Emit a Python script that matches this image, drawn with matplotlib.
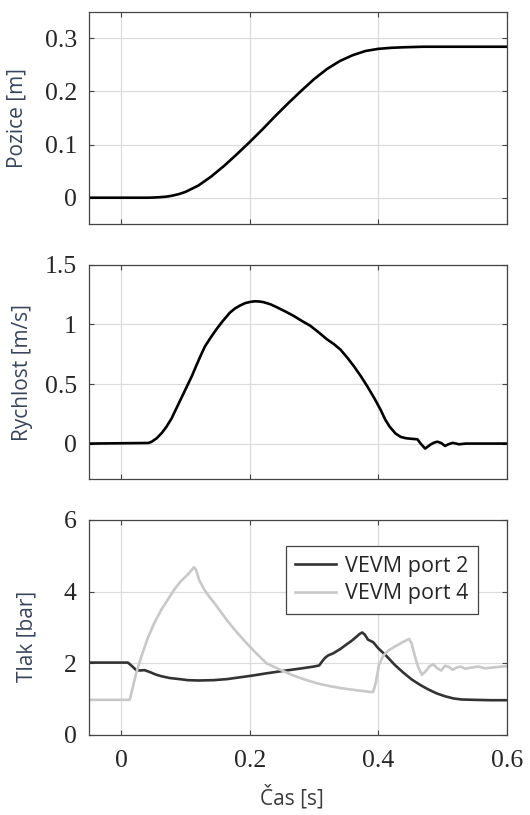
import matplotlib
matplotlib.use("Agg")
import matplotlib.pyplot as plt

# poloha
pos_t = [-0.05, 0.04, 0.05, 0.06, 0.07, 0.08, 0.09, 0.10, 0.12, 0.14, 0.16, 0.18, 0.20,
         0.22, 0.24, 0.26, 0.28, 0.30, 0.32, 0.34, 0.36, 0.37, 0.38, 0.39, 0.40, 0.41,
         0.42, 0.44, 0.47, 0.60]
pos = [0.0, 0.0, 0.0003, 0.001, 0.002, 0.004, 0.007, 0.011, 0.023, 0.040, 0.060, 0.082,
       0.105, 0.129, 0.154, 0.178, 0.201, 0.223, 0.242, 0.257, 0.268, 0.272, 0.276, 0.278,
       0.280, 0.281, 0.282, 0.283, 0.284, 0.284]

# rychlost
vel_t = [-0.05, 0.042, 0.047, 0.055, 0.063, 0.070, 0.078, 0.086, 0.094, 0.102, 0.110,
         0.117, 0.124, 0.130, 0.139, 0.148, 0.158, 0.169, 0.177, 0.185, 0.193, 0.201,
         0.208, 0.215, 0.221, 0.232, 0.242, 0.255, 0.268, 0.281, 0.294, 0.307, 0.320,
         0.331, 0.341, 0.352, 0.362, 0.373, 0.383, 0.394, 0.404, 0.411, 0.418, 0.427,
         0.435, 0.443, 0.452, 0.461, 0.466, 0.473, 0.482, 0.487, 0.492, 0.498, 0.504,
         0.510, 0.516, 0.521, 0.526, 0.536, 0.60]
vel = [0.0, 0.005, 0.015, 0.045, 0.09, 0.14, 0.21, 0.30, 0.39, 0.48, 0.57, 0.66, 0.745,
       0.815, 0.89, 0.96, 1.03, 1.10, 1.135, 1.16, 1.18, 1.19, 1.195, 1.193, 1.188, 1.17,
       1.145, 1.11, 1.073, 1.03, 0.99, 0.935, 0.876, 0.835, 0.79, 0.72, 0.65, 0.565,
       0.48, 0.38, 0.28, 0.20, 0.14, 0.084, 0.056, 0.045, 0.040, 0.036, 0.0, -0.042,
       -0.006, 0.008, 0.016, 0.005, -0.02, -0.004, 0.006, 0.0, -0.006, 0.0, 0.0]

# tlak - VEVM port 2
p2_t = [-0.05, 0.010, 0.016, 0.023, 0.030, 0.036, 0.045, 0.053, 0.062, 0.075, 0.090,
        0.103, 0.120, 0.144, 0.165, 0.185, 0.205, 0.226, 0.245, 0.265, 0.285, 0.300,
        0.308, 0.312, 0.317, 0.322, 0.330, 0.341, 0.350, 0.358, 0.366, 0.371, 0.375,
        0.379, 0.384, 0.392, 0.400, 0.413, 0.426, 0.439, 0.452, 0.465, 0.478, 0.491,
        0.504, 0.517, 0.530, 0.550, 0.575, 0.60]
p2 = [2.02, 2.02, 1.93, 1.81, 1.80, 1.81, 1.75, 1.69, 1.64, 1.59, 1.56, 1.53, 1.52,
      1.53, 1.56, 1.61, 1.66, 1.72, 1.77, 1.82, 1.87, 1.91, 1.94, 2.04, 2.15, 2.22,
      2.28, 2.40, 2.52, 2.62, 2.74, 2.82, 2.86, 2.80, 2.66, 2.59, 2.42, 2.20, 1.95,
      1.74, 1.55, 1.40, 1.27, 1.16, 1.08, 1.02, 0.99, 0.98, 0.97, 0.97]

# tlak - VEVM port 4
p4_t = [-0.05, 0.013, 0.018, 0.023, 0.031, 0.041, 0.051, 0.062, 0.072, 0.082, 0.092,
        0.103, 0.113, 0.116, 0.121, 0.128, 0.133, 0.149, 0.164, 0.179, 0.195, 0.210,
        0.226, 0.245, 0.265, 0.285, 0.305, 0.325, 0.345, 0.365, 0.388, 0.392, 0.396,
        0.401, 0.408, 0.416, 0.426, 0.437, 0.448, 0.452, 0.457, 0.462, 0.468, 0.474,
        0.480, 0.486, 0.492, 0.498, 0.504, 0.510, 0.516, 0.522, 0.528, 0.535, 0.545,
        0.556, 0.566, 0.577, 0.588, 0.60]
p4 = [0.98, 0.98, 1.35, 1.72, 2.19, 2.70, 3.12, 3.49, 3.77, 4.05, 4.28, 4.47, 4.68,
      4.62, 4.33, 4.09, 3.95, 3.58, 3.21, 2.88, 2.56, 2.28, 2.00, 1.84, 1.68, 1.55,
      1.44, 1.36, 1.30, 1.25, 1.20, 1.20, 1.45, 1.95, 2.22, 2.36, 2.47, 2.58, 2.68,
      2.55, 2.20, 1.90, 1.68, 1.78, 1.92, 1.97, 1.86, 1.80, 1.93, 1.90, 1.82, 1.88,
      1.91, 1.85, 1.88, 1.91, 1.86, 1.88, 1.90, 1.92]

xticks = [0, 0.2, 0.4, 0.6]
xticklabels = ["0", "0.2", "0.4", "0.6"]

label_font = "Open Sans"
tick_font = "Liberation Serif"
label_color = "#38445a"

fig = plt.figure(figsize=(5.3, 8.15), dpi=100)
ax1 = fig.add_axes([0.1685, 0.7248, 0.7875, 0.2609])
ax2 = fig.add_axes([0.1685, 0.4119, 0.7875, 0.2630])
ax3 = fig.add_axes([0.1685, 0.0982, 0.7875, 0.2638])

ax1.plot(pos_t, pos, color="black", lw=1.9)
ax2.plot(vel_t, vel, color="black", lw=1.9)
ax3.plot(p2_t, p2, color="#333333", lw=1.9, label="VEVM port 2")
ax3.plot(p4_t, p4, color="#c8c8c8", lw=1.9, label="VEVM port 4")

ax1.set_ylim(-0.05, 0.35)
ax1.set_yticks([0, 0.1, 0.2, 0.3])
ax1.set_yticklabels(["0", "0.1", "0.2", "0.3"])
ax2.set_ylim(-0.3, 1.5)
ax2.set_yticks([0, 0.5, 1, 1.5])
ax2.set_yticklabels(["0", "0.5", "1", "1.5"])
ax3.set_ylim(0, 6)
ax3.set_yticks([0, 2, 4, 6])
ax3.set_yticklabels(["0", "2", "4", "6"])

for ax in (ax1, ax2, ax3):
    ax.set_xlim(-0.05, 0.6)
    ax.set_xticks(xticks)
    ax.grid(True, color="#dcdcdc", lw=0.9)
    ax.set_axisbelow(True)
    ax.tick_params(direction="in", top=True, right=True, length=3.5, width=0.8,
                   color="#444444", labelsize=18.5, labelcolor="#262626", pad=9)
    ax.tick_params(axis="x", pad=11)
    for s in ax.spines.values():
        s.set_color("#444444")
        s.set_linewidth(0.9)
    for lab in ax.get_yticklabels():
        lab.set_fontfamily(tick_font)

ax1.set_xticklabels([])
ax2.set_xticklabels([])
ax3.set_xticklabels(xticklabels)
for lab in ax3.get_xticklabels():
    lab.set_fontfamily(tick_font)

ax1.set_ylabel("Pozice [m]", fontsize=15, family=label_font, color=label_color)
ax2.set_ylabel("Rychlost [m/s]", fontsize=15, family=label_font, color=label_color)
ax3.set_ylabel("Tlak [bar]", fontsize=15, family=label_font, color=label_color)
ax1.yaxis.set_label_coords(-0.147, 0.5)
ax2.yaxis.set_label_coords(-0.135, 0.5)
ax3.yaxis.set_label_coords(-0.125, 0.46)

ax3.set_xlabel("Čas [s]", fontsize=15, family=label_font, color="#3a3a3a")
ax3.xaxis.set_label_coords(0.485, -0.235)

leg = ax3.legend(loc="upper right", bbox_to_anchor=(0.931, 0.878), borderaxespad=0,
                 fancybox=False, framealpha=1, edgecolor="#444444", handlelength=1.9,
                 handletextpad=0.4, borderpad=0.45, labelspacing=0.3,
                 prop={"family": label_font, "size": 15.5})
leg.get_frame().set_linewidth(0.9)
for t in leg.get_texts():
    t.set_color("#262626")

fig.savefig("out.png", dpi=100)
